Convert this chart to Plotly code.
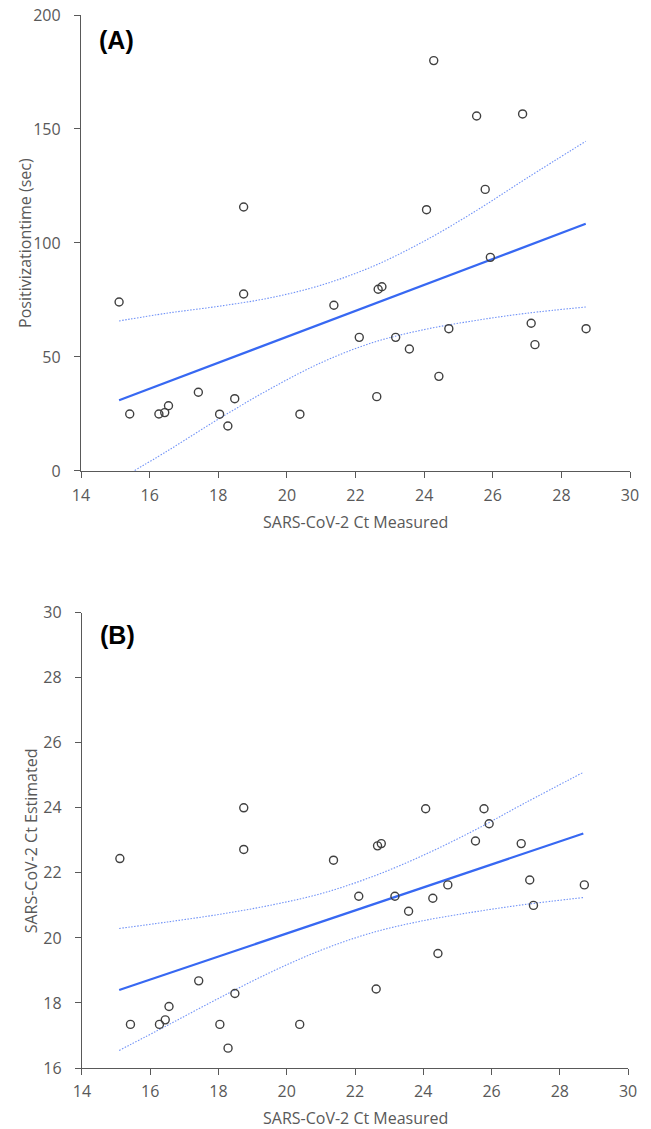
import plotly.graph_objects as go

# ---------------- data ----------------
ct_measured = [15.11, 15.42, 16.27, 16.44, 16.55, 17.42, 18.04, 18.28, 18.48, 18.74,
               18.74, 20.38, 21.37, 22.11, 22.62, 22.66, 22.77, 23.17, 23.57, 24.43,
               24.72, 27.12, 27.23, 28.72, 24.28, 25.53, 26.87, 25.78, 24.07, 25.93]
positivization_time = [74.1, 25.0, 25.0, 25.6, 28.6, 34.5, 24.9, 19.7, 31.7, 77.6,
                       115.8, 24.9, 72.7, 58.6, 32.6, 79.7, 80.8, 58.6, 53.5, 41.5,
                       62.4, 64.8, 55.4, 62.4, 180.0, 155.7, 156.6, 123.5, 114.6, 93.7]
ct_estimated = [22.44, 17.34, 17.34, 17.48, 17.89, 18.68, 17.34, 16.61, 18.29, 22.72,
                24.00, 17.34, 22.39, 21.28, 18.43, 22.83, 22.90, 21.28, 20.82, 19.52,
                21.63, 21.78, 21.00, 21.63, 21.22, 22.98, 22.90, 23.97, 23.97, 23.51]

# regression line and confidence band, panel A
fitA_x = [15.11, 28.71]
fitA_y = [31.0, 108.4]
bandA_x = [15.11, 16.5, 18.0, 19.5, 21.0, 22.5, 24.0, 25.5, 27.0, 28.71]
upA_y = [65.8, 69.2, 72.2, 75.9, 81.5, 89.7, 100.8, 114.0, 128.5, 144.6]
loA_y = [-3.8, 8.6, 22.7, 35.9, 47.5, 56.3, 62.0, 66.0, 69.2, 71.9]

# regression line and confidence band, panel B
fitB_x = [15.09, 28.69]
fitB_y = [18.40, 23.21]
bandB_x = [15.09, 16.5, 18.0, 19.5, 21.0, 22.5, 24.0, 25.5, 27.0, 28.69]
upB_y = [20.29, 20.49, 20.72, 21.00, 21.36, 21.88, 22.54, 23.31, 24.16, 25.09]
loB_y = [16.54, 17.31, 18.14, 18.93, 19.62, 20.16, 20.53, 20.80, 21.03, 21.24]

x_ticks = [14, 16, 18, 20, 22, 24, 26, 28, 30]
yA_ticks = [0, 50, 100, 150, 200]
yB_ticks = [16, 18, 20, 22, 24, 26, 28, 30]

x_title = "SARS-CoV-2 Ct Measured"
yA_title = "Positivizationtime (sec)"
yB_title = "SARS-CoV-2 Ct Estimated"

# ---------------- styles ----------------
AX = "#595959"
TXT = "#595959"
PT = "#404040"
LINE = "#3768f2"
BAND = "#7092f7"
FONT = "Open Sans"

fig = go.Figure()

def add_panel(x, y, fx, fy, bx, uy, ly, xa, ya):
    for by in (uy, ly):
        fig.add_trace(go.Scatter(x=bx, y=by, mode="lines", xaxis=xa, yaxis=ya,
                                 line=dict(color=BAND, width=1.1, dash="1.5px,1.5px", shape="spline"),
                                 hoverinfo="skip", showlegend=False))
    fig.add_trace(go.Scatter(x=fx, y=fy, mode="lines", xaxis=xa, yaxis=ya,
                             line=dict(color=LINE, width=2.2),
                             hoverinfo="skip", showlegend=False))
    fig.add_trace(go.Scatter(x=x, y=y, mode="markers", xaxis=xa, yaxis=ya,
                             marker=dict(symbol="circle-open", size=8, color=PT,
                                         line=dict(color=PT, width=1.4)),
                             showlegend=False, cliponaxis=False))

add_panel(ct_measured, positivization_time, fitA_x, fitA_y, bandA_x, upA_y, loA_y, "x", "y")
add_panel(ct_measured, ct_estimated, fitB_x, fitB_y, bandB_x, upB_y, loB_y, "x2", "y2")

axis_common = dict(showgrid=False, zeroline=False, showline=True, linecolor=AX, linewidth=1.3,
                   ticks="outside", ticklen=6, tickcolor=AX, tickwidth=1.3, automargin=False,
                   ticklabeloverflow="allow",
                   tickfont=dict(family=FONT, size=16, color=TXT))
title_font = dict(family=FONT, size=16, color=TXT)

def title_ann(text, xref, yref, x, y, xshift=0, yshift=0, angle=0):
    return dict(text=text, xref=xref, yref=yref, x=x, y=y, xshift=xshift, yshift=yshift,
                textangle=angle, xanchor="center", yanchor="middle", showarrow=False,
                font=title_font)

fig.update_layout(
    width=651, height=1129,
    margin=dict(l=81, r=21, t=15, b=61),
    paper_bgcolor="white", plot_bgcolor="white",
    font=dict(family=FONT, color=TXT),
    xaxis=dict(axis_common, range=[14, 30], tickvals=x_ticks, anchor="y",
               domain=[0, 1], ticklabelstandoff=4),
    yaxis=dict(axis_common, range=[0, 200], tickvals=yA_ticks, anchor="x",
               domain=[0.567, 1.0], ticklabelstandoff=10),
    xaxis2=dict(axis_common, range=[14, 30], tickvals=x_ticks, anchor="y2",
                domain=[0.0018, 0.9964], ticklabelstandoff=3),
    yaxis2=dict(axis_common, range=[16, 30], tickvals=yB_ticks, anchor="x2",
                domain=[0.0, 0.4324], ticklabelstandoff=10),
    annotations=[
        dict(text="<b>(A)</b>", xref="x domain", yref="y domain", x=0.029, y=0.945,
             xanchor="left", yanchor="middle", showarrow=False,
             font=dict(family="Liberation Sans", size=25, color="black")),
        dict(text="<b>(B)</b>", xref="x2 domain", yref="y2 domain", x=0.029, y=0.951,
             xanchor="left", yanchor="middle", showarrow=False,
             font=dict(family="Liberation Sans", size=25, color="black")),
        title_ann(x_title, "x domain", "y domain", 0.5, 0, yshift=-51),
        title_ann(x_title, "x2 domain", "y2 domain", 0.5, 0, yshift=-50),
        title_ann(yA_title, "x domain", "y domain", 0, 0.5, xshift=-56, angle=-90),
        title_ann(yB_title, "x2 domain", "y2 domain", 0, 0.5, xshift=-51, angle=-90),
    ],
)

# remove the browser's default 8px body margin so the figure sits at the page origin
fig.write_html("out.html", config={"displayModeBar": False},
               post_script="document.body.style.margin='0';")
